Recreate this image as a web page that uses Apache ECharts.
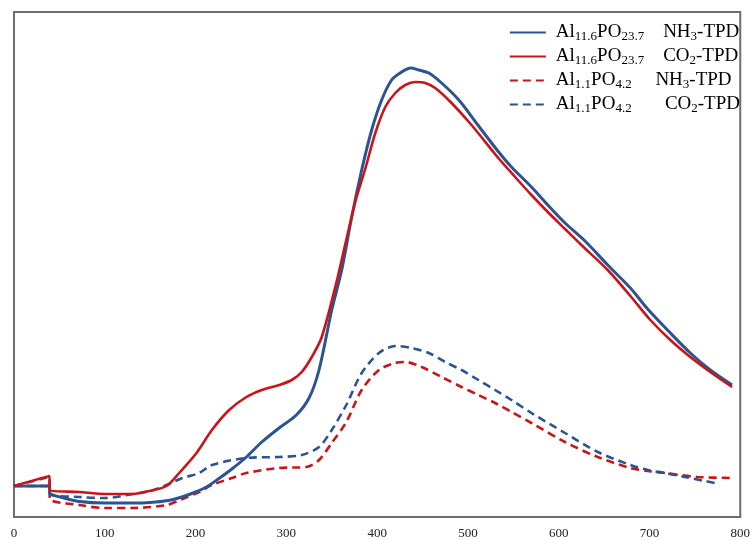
<!DOCTYPE html>
<html>
<head>
<meta charset="utf-8">
<script src="https://cdn.jsdelivr.net/npm/echarts@6/dist/echarts.min.js"></script>
<style>html,body{margin:0;padding:0;background:#fff}#c{width:753px;height:540px}</style>
</head>
<body>
<div id="c"></div>
<script>
// Temperature (°C) and signal (a.u.) for each curve
const xTicks = [0,100,200,300,400,500,600,700,800];

const tNH3_116 = [0,39,39.5,55,72,100,130,150,170,185,200,212,225,240,256,273,292,311,325,336,350,361,372,383,394,405,416,427,437,446,457,471,490,511,533,548,570,588,607,629,654,679,698,723,745,767,791];
const vNH3_116 = [31,31,24,19,15.5,14,14,14.5,16.5,20,25,30,38,48,60,75,89,102,119,147,207,247,300,347,387,417,437,445,449,447,444,434,417,392,366,350,330,312,294,276,252,229,208,184,164,147,132];

const tCO2_116 = [0,39,39.5,72,100,131,149,168,182,201,218,237,256,273,292,306,317,328,339,355,366,376.5,387.5,398,409,420,431,442,453,464,482,504,533.5,552,570,588,607,625,654,679,701,723,745,767,791];
const vCO2_116 = [31,41,27,25,23,23,26,31,44,64,87,107,120,127,132,137,145,160,180,234,277,317,350,384,410,424,432,435,434,429,414,392,359,340,322,305,288,272,247,221,197,177,160,145,130];

const tNH3_11 = [0,39,39.5,72,100,131,168,185.5,204,218,240,256,292,322,336,350,366,383,402,420,431,449,471,493,511.5,530,548,570,607,643,679,698,717,753,794];
const vNH3_11 = [31,31,18,12,9,9,12,18,25,32,39,44,49,50,57,74,95,127,147,154,155,150,140,130,122,114,105,94,75,60,49,46,44,40,39];

const tCO2_11 = [0,39,39.5,72,100,131,150,168,185.5,204,218,256,292,317,336,350,366,383,402,420,438,457,475,493,511.5,530,548,570,607,643,679,698,717,739,761,777];
const vCO2_11 = [31,40,23,20,19,23,26,32,39,44,52,59,60,62,70,87,112,144,164,171,169,164,155,147,137,127,117,104,84,65,52,47,44,40,36,33];

const names = ['Al11.6PO23.7 NH3-TPD','Al11.6PO23.7 CO2-TPD','Al1.1PO4.2 NH3-TPD','Al1.1PO4.2 CO2-TPD'];
const richNames = {
  'Al11.6PO23.7 NH3-TPD': '{p|}{n|Al}{s|11.6}{n|PO}{s|23.7}{n|    NH}{s|3}{n|-TPD}',
  'Al11.6PO23.7 CO2-TPD': '{p|}{n|Al}{s|11.6}{n|PO}{s|23.7}{n|    CO}{s|2}{n|-TPD}',
  'Al1.1PO4.2 NH3-TPD': '{p|}{n|Al}{s|1.1}{n|PO}{s|4.2}{n|     NH}{s|3}{n|-TPD}',
  'Al1.1PO4.2 CO2-TPD': '{p|}{n|Al}{s|1.1}{n|PO}{s|4.2}{n|       CO}{s|2}{n|-TPD}'
};

const BLUE = '#2b5592';
const RED = '#cc1418';

function zip(t, v){ return t.map((x,i)=>[x, v[i]]); }

const common = {type: 'line', showSymbol: false, symbol: 'none', symbolSize: 0, smooth: 0.3};

const chart = echarts.init(document.getElementById('c'), null, {renderer:'canvas'});
chart.setOption({
  animation: false,
  backgroundColor: '#fff',
  grid: {left: 14, right: 9, top: 12, bottom: 23, show: true, borderColor: '#6e6e6e', borderWidth: 2, backgroundColor: 'transparent'},
  legend: {
    orient: 'vertical', right: 8, top: 17,
    itemWidth: 36, itemHeight: 14, itemGap: 3,
    data: names,
    itemStyle: {opacity: 0},
    formatter: n => richNames[n],
    textStyle: {
      lineHeight: 21,
      rich: {
        p: {width: 5},
        n: {fontFamily: 'Liberation Serif', fontSize: 19, color: '#000', lineHeight: 21},
        s: {fontFamily: 'Liberation Serif', fontSize: 13, color: '#000', lineHeight: 10, verticalAlign: 'bottom'}
      }
    }
  },
  xAxis: {
    type: 'value', min: 0, max: 800, interval: 100,
    axisLine: {show: true, lineStyle: {color: '#6e6e6e', width: 2}},
    axisTick: {show: false},
    splitLine: {show: false},
    axisLabel: {fontFamily: 'Liberation Serif', fontSize: 13, color: '#222', margin: 10, showMaxLabel: true, showMinLabel: true}
  },
  yAxis: {
    type: 'value', min: 0, max: 505,
    axisLine: {show: true, lineStyle: {color: '#6e6e6e', width: 2}},
    axisTick: {show: false}, axisLabel: {show: false}, splitLine: {show: false}
  },
  series: [
    Object.assign({}, common, {name: names[0], data: zip(tNH3_116, vNH3_116),
     lineStyle: {color: BLUE, width: 3}, itemStyle: {color: BLUE}, z: 3}),
    Object.assign({}, common, {name: names[1], data: zip(tCO2_116, vCO2_116),
     lineStyle: {color: RED, width: 2.6}, itemStyle: {color: RED}, z: 4}),
    Object.assign({}, common, {name: names[2], data: zip(tNH3_11, vNH3_11),
     lineStyle: {color: RED, width: 2.6, type: [8,5]}, itemStyle: {color: RED}, z: 2}),
    Object.assign({}, common, {name: names[3], data: zip(tCO2_11, vCO2_11),
     lineStyle: {color: BLUE, width: 2.6, type: [8,5]}, itemStyle: {color: BLUE}, z: 2})
  ]
});
</script>
</body>
</html>
